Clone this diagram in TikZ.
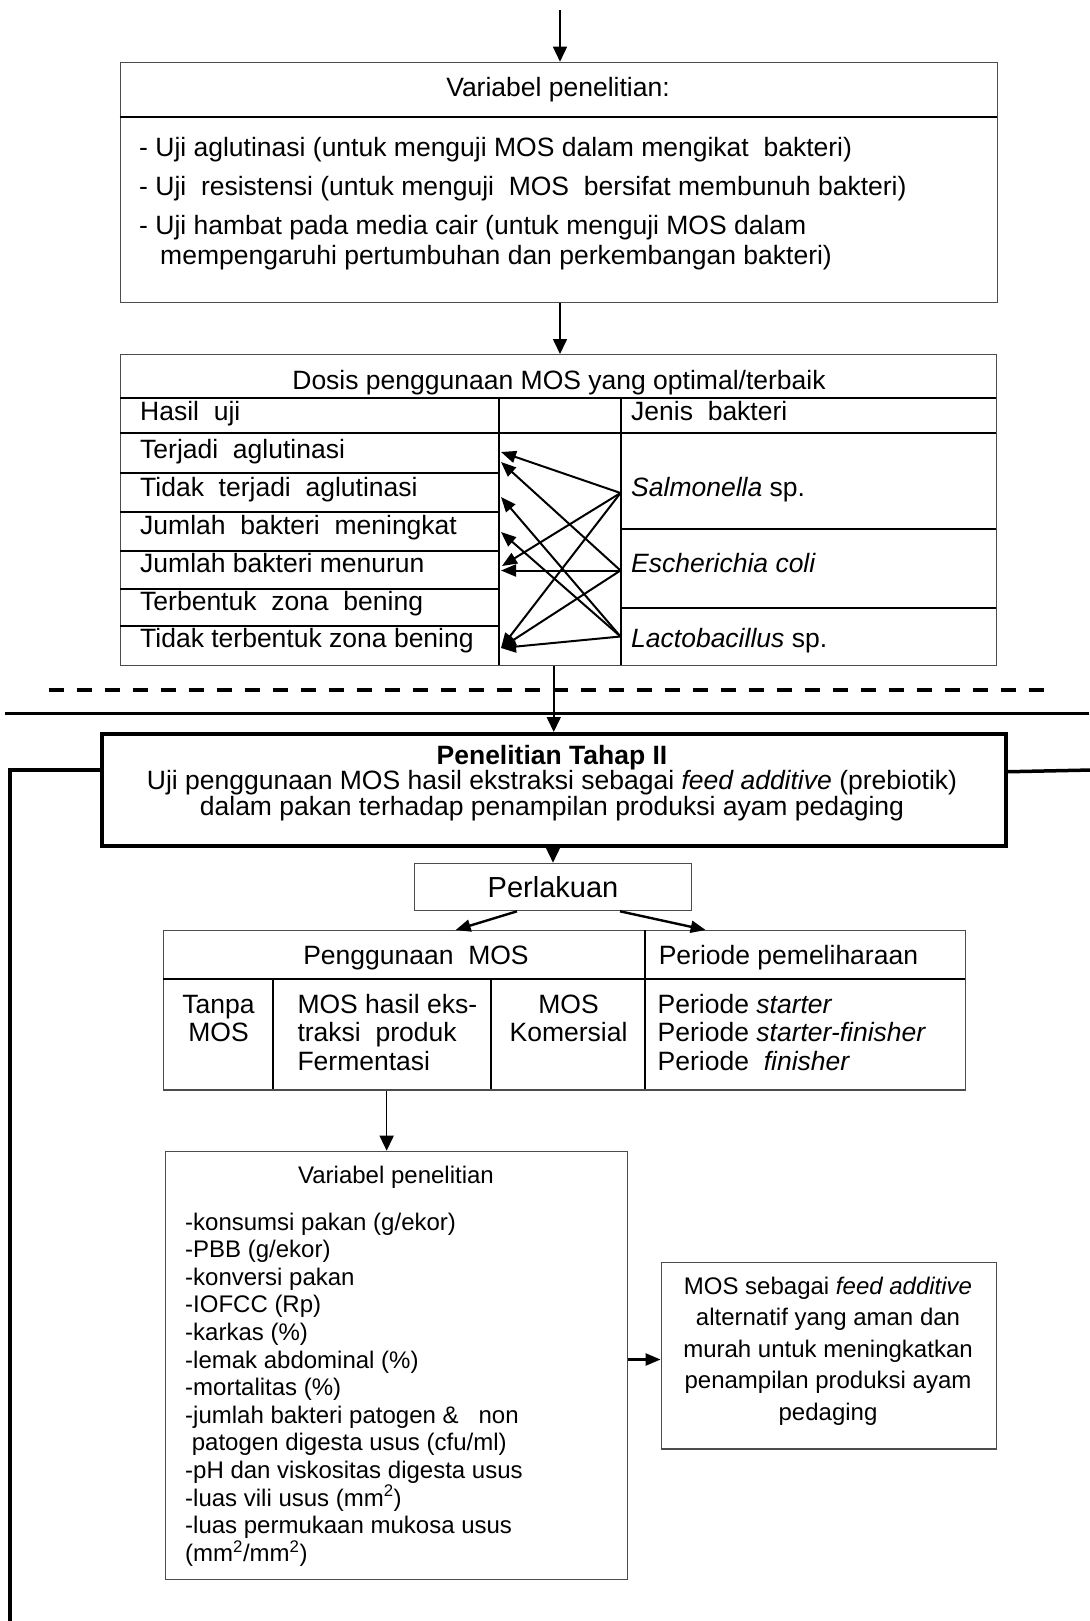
\documentclass[tikz,border=0pt]{standalone}
\usepackage{fontspec}
\setmainfont{Liberation Sans}
\usetikzlibrary{arrows.meta}
\newcommand\fmain{\fontsize{26.5pt}{30pt}\selectfont}
\newcommand\ftight{\fontsize{26.5pt}{22pt}\selectfont}
\newcommand\fsmall{\fontsize{24pt}{28pt}\selectfont}
\newcommand\fbig{\fontsize{29pt}{33pt}\selectfont}
\definecolor{edge}{gray}{0.3}

\begin{document}
\begin{tikzpicture}[x=1pt,y=-1pt,
  box/.style={draw=edge, line width=1.3pt, inner sep=0pt, anchor=north west},
  gridline/.style={line width=2pt},
  arr/.style={line width=1.6pt, -{Triangle[length=15pt,width=14pt]}},
  xarr/.style={line width=2pt, -{Triangle[length=15pt,width=12pt]}},
  heavy/.style={line width=3.5pt},
  lbl/.style={inner sep=0pt, anchor=base west, font=\fmain},
  clbl/.style={inner sep=0pt, anchor=base, font=\fmain},
  slbl/.style={inner sep=0pt, anchor=base west, font=\fsmall},
  sclbl/.style={inner sep=0pt, anchor=base, font=\fsmall},
]
\fill[white] (0,0) rectangle (1089,1621);
\useasboundingbox (0,0) rectangle (1089,1621);

% ---------- research variables (stage I) ----------
\coordinate (start) at (560,10);
\node[box, minimum width=877pt, minimum height=240pt] (vbox) at (119.5,61.7) {};
\draw[arr] (start) -- (start |- vbox.north);
\draw[gridline] (119.5,117.3) -- (996.5,117.3);
\node[clbl] (vtitle) at (558,97) {Variabel penelitian:};
\node[lbl] (v1) at (139,157) {- Uji aglutinasi (untuk menguji MOS dalam mengikat\ \ bakteri)};
\node[lbl] (v2) at (139,196) {- Uji\ \ resistensi (untuk menguji\ \ MOS\ \ bersifat membunuh bakteri)};
\node[lbl] (v3) at (139,235) {- Uji hambat pada media cair (untuk menguji MOS dalam};
\node[lbl] (v4) at (160,265) {mempengaruhi pertumbuhan dan perkembangan bakteri)};

% ---------- optimal dose table ----------
\node[box, minimum width=876pt, minimum height=311pt] (tab1) at (120,354) {};
\draw[arr] (vbox.south -| start) -- (start |- tab1.north);
\draw[gridline] (120,398) -- (996,398);
\draw[gridline] (120,433) -- (996,433);
\draw[gridline] (499,398) -- (499,665);
\draw[gridline] (620.5,398) -- (620.5,665);
\foreach \yy in {472.7,511.7,550.7,588.7,625.7}
  \draw[gridline] (120,\yy) -- (499,\yy);
\foreach \yy in {529.3,607.7}
  \draw[gridline] (620.5,\yy) -- (996,\yy);

\node[clbl] (dtitle) at (559,389.5) {Dosis penggunaan MOS yang optimal/terbaik};
\node[lbl] (hasil) at (140,420) {Hasil\ \ uji};
\node[lbl] (jenis) at (631,420) {Jenis\ \ bakteri};
\node[lbl] (r1) at (140,458) {Terjadi\ \ aglutinasi};
\node[lbl] (r2) at (140,496) {Tidak\ \ terjadi\ \ aglutinasi};
\node[lbl] (r3) at (140,534.5) {Jumlah\ \ bakteri\ \ meningkat};
\node[lbl] (r4) at (140,572.5) {Jumlah bakteri menurun};
\node[lbl] (r5) at (140,610.5) {Terbentuk\ \ zona\ \ bening};
\node[lbl] (r6) at (140,647.5) {Tidak terbentuk zona bening};
\node[lbl] (b1) at (631,496) {\textit{Salmonella} sp.};
\node[lbl] (b2) at (631,572.5) {\textit{Escherichia coli}};
\node[lbl] (b3) at (631,647.5) {\textit{Lactobacillus} sp.};

% bacteria -> test results
\coordinate (sal) at (620.5,493);
\coordinate (eco) at (620.5,570.5);
\coordinate (lac) at (620.5,636.5);
\coordinate (h1) at (501,452);
\coordinate (h2) at (501,462);
\coordinate (h3) at (501,497);
\coordinate (h4) at (501,532);
\coordinate (h5) at (502,566);
\coordinate (h6) at (501,570.5);
\coordinate (h7) at (501,648);
\draw[xarr] (sal) -- (h1);
\draw[xarr] (sal) -- (h5);
\draw[xarr] (sal) -- (h7);
\draw[xarr] (eco) -- (h2);
\draw[xarr] (eco) -- (h6);
\draw[xarr] (eco) -- (h7);
\draw[xarr] (lac) -- (h3);
\draw[xarr] (lac) -- (h4);
\draw[xarr] (lac) -- (h7);

% ---------- stage separators ----------
\draw[line width=4pt, dash pattern=on 15.5pt off 12.5pt] (48.6,690) -- (1045.7,690);
\draw[line width=3.5pt] (5,713.5) -- (1089,713.5);

% ---------- stage II ----------
\node[draw, heavy, inner sep=0pt, anchor=north west, minimum width=904pt, minimum height=112pt] (tahap) at (100,732) {};
\draw[arr] (tab1.south -| tahap.north) -- (tahap.north);
\node[inner sep=0pt, align=center, font=\ftight] (th) at (552,783)
  {\textbf{Penelitian Tahap II}\\
   Uji penggunaan MOS hasil ekstraksi sebagai \textit{feed additive} (prebiotik)\\
   dalam pakan terhadap penampilan produksi ayam pedaging};
\coordinate (lcEnd) at (10,1625);
\coordinate (rcEnd) at (1092,770);
\draw[heavy] ([yshift=20pt]tahap.west) -| (lcEnd);
\draw[heavy] ([yshift=18pt]tahap.east) -- (rcEnd);

% ---------- treatments ----------
\node[box, minimum width=276.7pt, minimum height=47.3pt, font=\fbig] (perl) at (414,862.7) {Perlakuan};
\draw[arr] (tahap.south -| perl.north) -- (perl.north);

\node[box, minimum width=802pt, minimum height=159.3pt] (tab2) at (163,930) {};
\draw[xarr, line width=2.4pt] ([xshift=-36pt]perl.south) -- ([xshift=-109pt]tab2.north);
\draw[xarr, line width=2.4pt] ([xshift=67pt]perl.south) -- ([xshift=141pt]tab2.north);
\draw[gridline] (163,979) -- (965,979);
\draw[gridline] (273.4,979) -- (273.4,1089.3);
\draw[gridline] (490.7,979) -- (490.7,1089.3);
\draw[gridline] (645,930) -- (645,1089.3);

\node[clbl] (pg) at (416,964) {Penggunaan\ \ MOS};
\node[lbl] (pp) at (658.6,964) {Periode pemeliharaan};
\node[clbl] (c1a) at (218.5,1013) {Tanpa};
\node[clbl] (c1b) at (218.5,1041.5) {MOS};
\node[lbl] (c2a) at (297.3,1013) {MOS hasil eks-};
\node[lbl] (c2b) at (297.3,1041.5) {traksi\ \ produk};
\node[lbl] (c2c) at (297.3,1070) {Fermentasi};
\node[clbl] (c3a) at (568.5,1013) {MOS};
\node[clbl] (c3b) at (568.5,1041.5) {Komersial};
\node[lbl] (c4a) at (657.5,1013) {Periode \textit{starter}};
\node[lbl] (c4b) at (657.5,1041.5) {Periode \textit{starter-finisher}};
\node[lbl] (c4c) at (657.5,1070) {Periode\ \ \textit{finisher}};

% ---------- stage II variables and outcome ----------
\node[box, minimum width=462pt, minimum height=428.3pt] (vb) at (165,1150.7) {};
\draw[arr] ([xshift=-178pt]tab2.south) -- ([xshift=-178pt]tab2.south |- vb.north);
\node[sclbl] (vbt) at (396,1183) {Variabel penelitian};
\node[slbl] (l1) at (185,1230) {-konsumsi pakan (g/ekor)};
\node[slbl] (l2) at (185,1257.6) {-PBB (g/ekor)};
\node[slbl] (l3) at (185,1285.2) {-konversi pakan};
\node[slbl] (l4) at (185,1312.8) {-IOFCC (Rp)};
\node[slbl] (l5) at (185,1340.4) {-karkas (\%)};
\node[slbl] (l6) at (185,1368) {-lemak abdominal (\%)};
\node[slbl] (l7) at (185,1395.6) {-mortalitas (\%)};
\node[slbl] (l8) at (185,1423.2) {-jumlah bakteri patogen \&\ \ \ non};
\node[slbl] (l9) at (185,1450.8) {\ patogen digesta usus (cfu/ml)};
\node[slbl] (l10) at (185,1478.4) {-pH dan viskositas digesta usus};
\node[slbl] (l11) at (185,1506) {-luas vili usus (mm\textsuperscript{2})};
\node[slbl] (l12) at (185,1533.6) {-luas permukaan mukosa usus};
\node[slbl] (l13) at (185,1561.2) {(mm\textsuperscript{2}/mm\textsuperscript{2})};

\node[box, minimum width=335pt, minimum height=186.6pt] (fb) at (660.6,1261.7) {};
\draw[xarr, line width=2.4pt] ([yshift=6pt]vb.east) -- ([yshift=6pt]vb.east -| fb.west);
\node[sclbl] (f1) at (828,1294) {MOS sebagai \textit{feed additive}};
\node[sclbl] (f2) at (828,1325.5) {alternatif yang aman dan};
\node[sclbl] (f3) at (828,1357) {murah untuk meningkatkan};
\node[sclbl] (f4) at (828,1388.5) {penampilan produksi ayam};
\node[sclbl] (f5) at (828,1420) {pedaging};
\end{tikzpicture}
\end{document}
